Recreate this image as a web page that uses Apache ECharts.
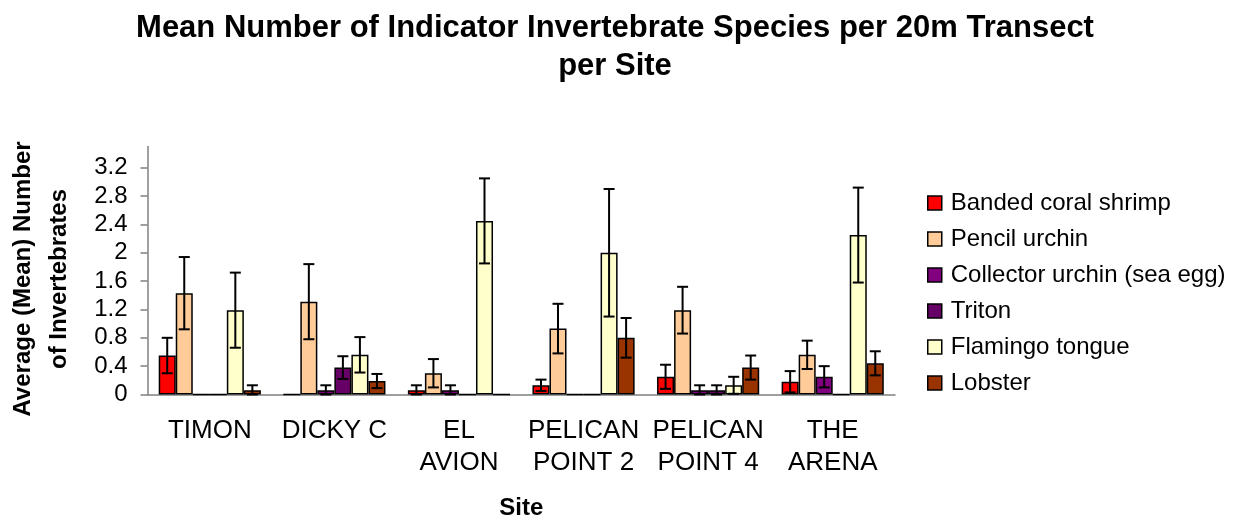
<!DOCTYPE html>
<html>
<head>
<meta charset="utf-8">
<title>Mean Number of Indicator Invertebrate Species</title>
<script src="https://cdn.jsdelivr.net/npm/echarts@6/dist/echarts.min.js"></script>
<style>
  html, body { margin: 0; padding: 0; background: #fff; }
  #chart { width: 1252px; height: 515px; }
</style>
</head>
<body>
<div id="chart"></div>
<script>
// Sites along the x axis
const sites = ['TIMON', 'DICKY C', 'EL\nAVION', 'PELICAN\nPOINT 2', 'PELICAN\nPOINT 4', 'THE\nARENA'];
const speciesNames = ['Banded coral shrimp', 'Pencil urchin', 'Collector urchin (sea egg)', 'Triton', 'Flamingo tongue', 'Lobster'];
const speciesColors = ['#FF0000', '#FFCC99', '#800080', '#660066', '#FFFFCC', '#993300'];

// Mean counts per site
const shrimp    = [0.55, 0,    0.06, 0.13, 0.25, 0.18];
const pencil    = [1.43, 1.31, 0.30, 0.93, 1.19, 0.56];
const collector = [0,    0.06, 0.06, 0,    0.06, 0.25];
const triton    = [0,    0.38, 0,    0,    0.06, 0];
const flamingo  = [1.19, 0.56, 2.45, 2.00, 0.13, 2.25];
const lobster   = [0.06, 0.19, 0,    0.80, 0.38, 0.44];

// Error bar half-lengths
const shrimpErr    = [0.25, 0,    0.07, 0.08, 0.17, 0.15];
const pencilErr    = [0.51, 0.53, 0.20, 0.35, 0.33, 0.20];
const collectorErr = [0,    0.07, 0.07, 0,    0.07, 0.15];
const tritonErr    = [0,    0.16, 0,    0,    0.07, 0];
const flamingoErr  = [0.53, 0.25, 0.60, 0.90, 0.12, 0.67];
const lobsterErr   = [0.07, 0.10, 0,    0.28, 0.17, 0.17];

const yTicks = [0, 0.4, 0.8, 1.2, 1.6, 2, 2.4, 2.8, 3.2];

const means = [shrimp, pencil, collector, triton, flamingo, lobster];
const errs = [shrimpErr, pencilErr, collectorErr, tritonErr, flamingoErr, lobsterErr];

const CAT_GAP = 0.18;
const FONT = 'Liberation Sans, Arial, sans-serif';

// [category, series, mean, err] for the custom error bar series
const errData = [];
means.forEach((vals, s) => {
  vals.forEach((v, c) => {
    if (errs[s][c] > 0) errData.push([c, s, v, errs[s][c]]);
  });
});

const barSeries = speciesNames.map((name, i) => ({
  name: name,
  type: 'bar',
  data: means[i],
  barGap: '0%',
  barCategoryGap: (CAT_GAP * 100) + '%',
  itemStyle: {
    color: speciesColors[i],
    borderColor: '#000',
    borderWidth: 1.5
  },
  emphasis: { disabled: true }
}));

const errorSeries = {
  type: 'custom',
  name: 'error',
  data: errData,
  encode: { x: 0, y: 2 },
  z: 10,
  silent: true,
  renderItem: function (params, api) {
    const c = api.value(0), s = api.value(1), v = api.value(2), e = api.value(3);
    const band = api.size([1, 0])[0];
    const bw = band * (1 - CAT_GAP) / 6;
    const cx = api.coord([c, 0])[0] + (s - 2.5) * bw;
    const yTop = api.coord([c, v + e])[1];
    const yBot = api.coord([c, Math.max(0, v - e)])[1];
    const st = { stroke: '#000', lineWidth: 2 };
    const cap = 5.5;
    return {
      type: 'group',
      children: [
        { type: 'line', shape: { x1: cx, y1: yTop, x2: cx, y2: yBot }, style: st },
        { type: 'line', shape: { x1: cx - cap, y1: yTop, x2: cx + cap, y2: yTop }, style: st },
        { type: 'line', shape: { x1: cx - cap, y1: yBot, x2: cx + cap, y2: yBot }, style: st }
      ]
    };
  }
};

const chart = echarts.init(document.getElementById('chart'), null, { renderer: 'canvas' });

chart.setOption({
  animation: false,
  backgroundColor: '#fff',
  title: {
    text: 'Mean Number of Indicator Invertebrate Species per 20m Transect\nper Site',
    left: 610,
    top: 4,
    textAlign: 'center',
    textStyle: {
      fontFamily: FONT,
      fontSize: 31,
      fontWeight: 'bold',
      color: '#000',
      lineHeight: 38
    }
  },
  grid: {
    left: 147.5,
    top: 146.5,
    width: 747.5,
    height: 248,
    outerBoundsMode: 'none'
  },
  legend: {
    orient: 'vertical',
    left: 922,
    top: 186,
    itemWidth: 14,
    itemHeight: 14,
    itemGap: 12,
    icon: 'rect',
    data: speciesNames,
    itemStyle: { borderColor: '#000', borderWidth: 1.5 },
    textStyle: {
      fontFamily: FONT,
      fontSize: 24,
      color: '#000',
      lineHeight: 24,
      padding: [0, 0, 0, 4]
    }
  },
  xAxis: {
    type: 'category',
    data: sites,
    name: 'Site',
    nameLocation: 'middle',
    nameGap: 102,
    nameTextStyle: {
      fontFamily: FONT,
      fontSize: 24,
      fontWeight: 'bold',
      color: '#000'
    },
    axisLine: { lineStyle: { color: '#808080', width: 1.5 } },
    axisTick: { length: 7, lineStyle: { color: '#808080', width: 1.5 } },
    axisLabel: {
      interval: 0,
      margin: 20,
      fontFamily: FONT,
      fontSize: 26,
      lineHeight: 32,
      color: '#000'
    },
    splitLine: { show: false }
  },
  yAxis: {
    type: 'value',
    min: 0,
    max: 3.5,
    name: 'Average (Mean) Number\nof Invertebrates',
    nameLocation: 'middle',
    nameRotate: 90,
    nameGap: 70,
    nameTextStyle: {
      fontFamily: FONT,
      fontSize: 24,
      fontWeight: 'bold',
      color: '#000',
      lineHeight: 36,
      padding: [0, 17, 0, 0]
    },
    axisLine: { show: true, lineStyle: { color: '#808080', width: 1.5 } },
    axisTick: {
      show: true,
      length: 7,
      customValues: yTicks,
      lineStyle: { color: '#808080', width: 1.5 }
    },
    axisLabel: {
      customValues: yTicks,
      margin: 20,
      fontFamily: FONT,
      fontSize: 24,
      color: '#000'
    },
    splitLine: { show: false }
  },
  series: barSeries.concat([errorSeries])
});
</script>
</body>
</html>
